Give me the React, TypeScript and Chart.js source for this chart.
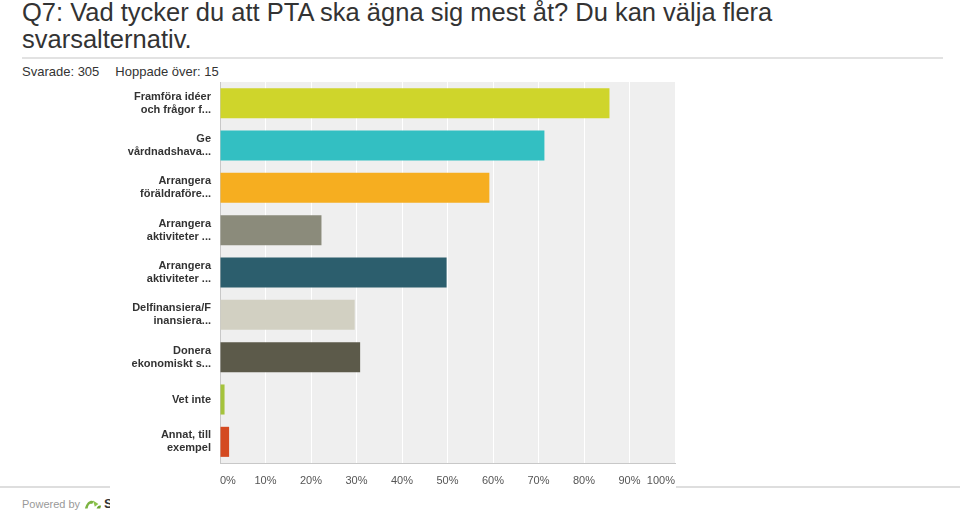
import React, { useEffect, useRef } from "react";
import { Chart, registerables } from "chart.js";

Chart.register(...registerables);

const categories: string[][] = [
  ["Framföra idéer", "och frågor f..."],
  ["Ge", "vårdnadshava..."],
  ["Arrangera", "föräldraföre..."],
  ["Arrangera", "aktiviteter ..."],
  ["Arrangera", "aktiviteter ..."],
  ["Delfinansiera/F", "inansiera..."],
  ["Donera", "ekonomiskt s..."],
  ["Vet inte"],
  ["Annat, till", "exempel"],
];
const values: number[] = [85.6, 71.3, 59.2, 22.3, 49.8, 29.6, 30.8, 1.0, 2.0];
const barColors: string[] = [
  "#cfd52b",
  "#33bfc2",
  "#f6ae20",
  "#8b8b7b",
  "#2c5e6d",
  "#d2d0c2",
  "#5c5a4a",
  "#a5c33c",
  "#d44a21",
];
const xTickValues: number[] = [0, 10, 20, 30, 40, 50, 60, 70, 80, 90, 100];

const FONT = "'Liberation Sans', Arial, sans-serif";

const bgPlugin = {
  id: "plotBg",
  beforeDraw(chart: any) {
    const { ctx, chartArea: a } = chart;
    ctx.save();
    ctx.fillStyle = "#ffffff";
    ctx.fillRect(0, 0, chart.width, chart.height);
    ctx.fillStyle = "#efefef";
    ctx.fillRect(a.left, a.top, a.right - a.left, a.bottom - a.top);
    ctx.restore();
  },
  afterDraw(chart: any) {
    const { ctx, chartArea: a } = chart;
    const xs = chart.scales.x;
    ctx.save();
    ctx.font = `11px ${FONT}`;
    ctx.fillStyle = "#555555";
    ctx.textBaseline = "middle";
    ctx.textAlign = "left";
    for (const v of xTickValues) {
      const label = v + "%";
      const w = ctx.measureText(label).width;
      const px = xs.getPixelForValue(v);
      let x = px - w / 2;
      if (x < a.left) x = a.left;
      if (x + w > a.right) x = a.right - w;
      ctx.fillText(label, x, a.bottom + 18);
    }
    ctx.restore();
  },
};

function ChartBox() {
  const ref = useRef<HTMLCanvasElement | null>(null);
  useEffect(() => {
    if (!ref.current) return;
    const chart = new Chart(ref.current, {
      type: "bar",
      data: {
        labels: categories,
        datasets: [
          {
            data: values,
            backgroundColor: barColors,
            borderWidth: 0,
            barPercentage: 0.71,
            categoryPercentage: 1,
          },
        ],
      },
      options: {
        indexAxis: "y",
        animation: false,
        responsive: false,
        maintainAspectRatio: false,
        layout: { padding: { top: 2, right: 1, left: 0, bottom: 0 } },
        plugins: {
          legend: { display: false },
          tooltip: { enabled: false },
        },
        scales: {
          x: {
            min: 0,
            max: 100,
            ticks: { display: false, stepSize: 10 },
            grid: {
              color: (c: any) => (c.tick && c.tick.value === 0 ? "rgba(0,0,0,0)" : "#ffffff"),
              lineWidth: 1,
              drawTicks: false,
            },
            border: { display: true, color: "#c8c8c8", width: 1 },
            afterFit: (s: any) => {
              s.height = 50;
              s.paddingLeft = 0;
              s.paddingRight = 0;
            },
          },
          y: {
            ticks: {
              color: "#333333",
              font: { family: FONT, size: 11, weight: "bold", lineHeight: 1.18 },
              padding: 9,
            },
            grid: { display: false, drawTicks: false },
            border: { display: true, color: "#c8c8c8", width: 1 },
            afterFit: (s: any) => {
              s.width = 110;
              s.paddingTop = 0;
              s.paddingBottom = 0;
            },
          },
        },
      },
      plugins: [bgPlugin],
    });
    return () => chart.destroy();
  }, []);
  return <canvas ref={ref} width={566} height={433} style={{ display: "block" }} />;
}

export default function App() {
  return (
    <div
      style={{
        position: "fixed",
        left: 0,
        top: 0,
        width: 960,
        height: 513,
        overflow: "hidden",
        background: "#fff",
        fontFamily: FONT,
      }}
    >
      <div
        style={{
          position: "absolute",
          left: 22,
          top: -1,
          width: 920,
          fontSize: 25.5,
          lineHeight: "27px",
          color: "#333",
        }}
      >
        Q7: Vad tycker du att PTA ska ägna sig mest åt? Du kan välja flera svarsalternativ.
      </div>
      <div
        style={{
          position: "absolute",
          left: 22,
          top: 57,
          width: 921,
          height: 2,
          background: "#e2e2e2",
        }}
      />
      <div
        style={{
          position: "absolute",
          left: 22,
          top: 64,
          fontSize: 13,
          lineHeight: "15px",
          color: "#333",
          whiteSpace: "pre",
        }}
      >
        <span>Svarade: 305</span>
        <span style={{ marginLeft: 16 }}>Hoppade över: 15</span>
      </div>
      <div
        style={{ position: "absolute", left: 0, top: 486, width: 960, height: 2, background: "#dedede" }}
      />
      <div
        style={{
          position: "absolute",
          left: 22,
          top: 497,
          fontSize: 11,
          lineHeight: "14px",
          color: "#999",
          whiteSpace: "pre",
          display: "flex",
          alignItems: "center",
        }}
      >
        <span>Powered by</span>
        <svg width="18" height="12" style={{ marginLeft: 4 }} viewBox="0 0 20 12">
          <path d="M1 11 C3 3, 8 1, 11 3 L9 6 C7 5, 5 6, 4 11 Z" fill="#7cb342" />
          <path d="M10 2 L16 6 L12 9 Z" fill="#8bc34a" />
          <path d="M14 11 C15 8, 17 7, 19 8 L18 11 Z" fill="#6aa332" />
        </svg>
        <span style={{ marginLeft: 2, color: "#333", fontWeight: "bold", fontSize: 13 }}>S</span>
      </div>
      <div style={{ position: "absolute", left: 110, top: 80 }}>
        <ChartBox />
      </div>
    </div>
  );
}
